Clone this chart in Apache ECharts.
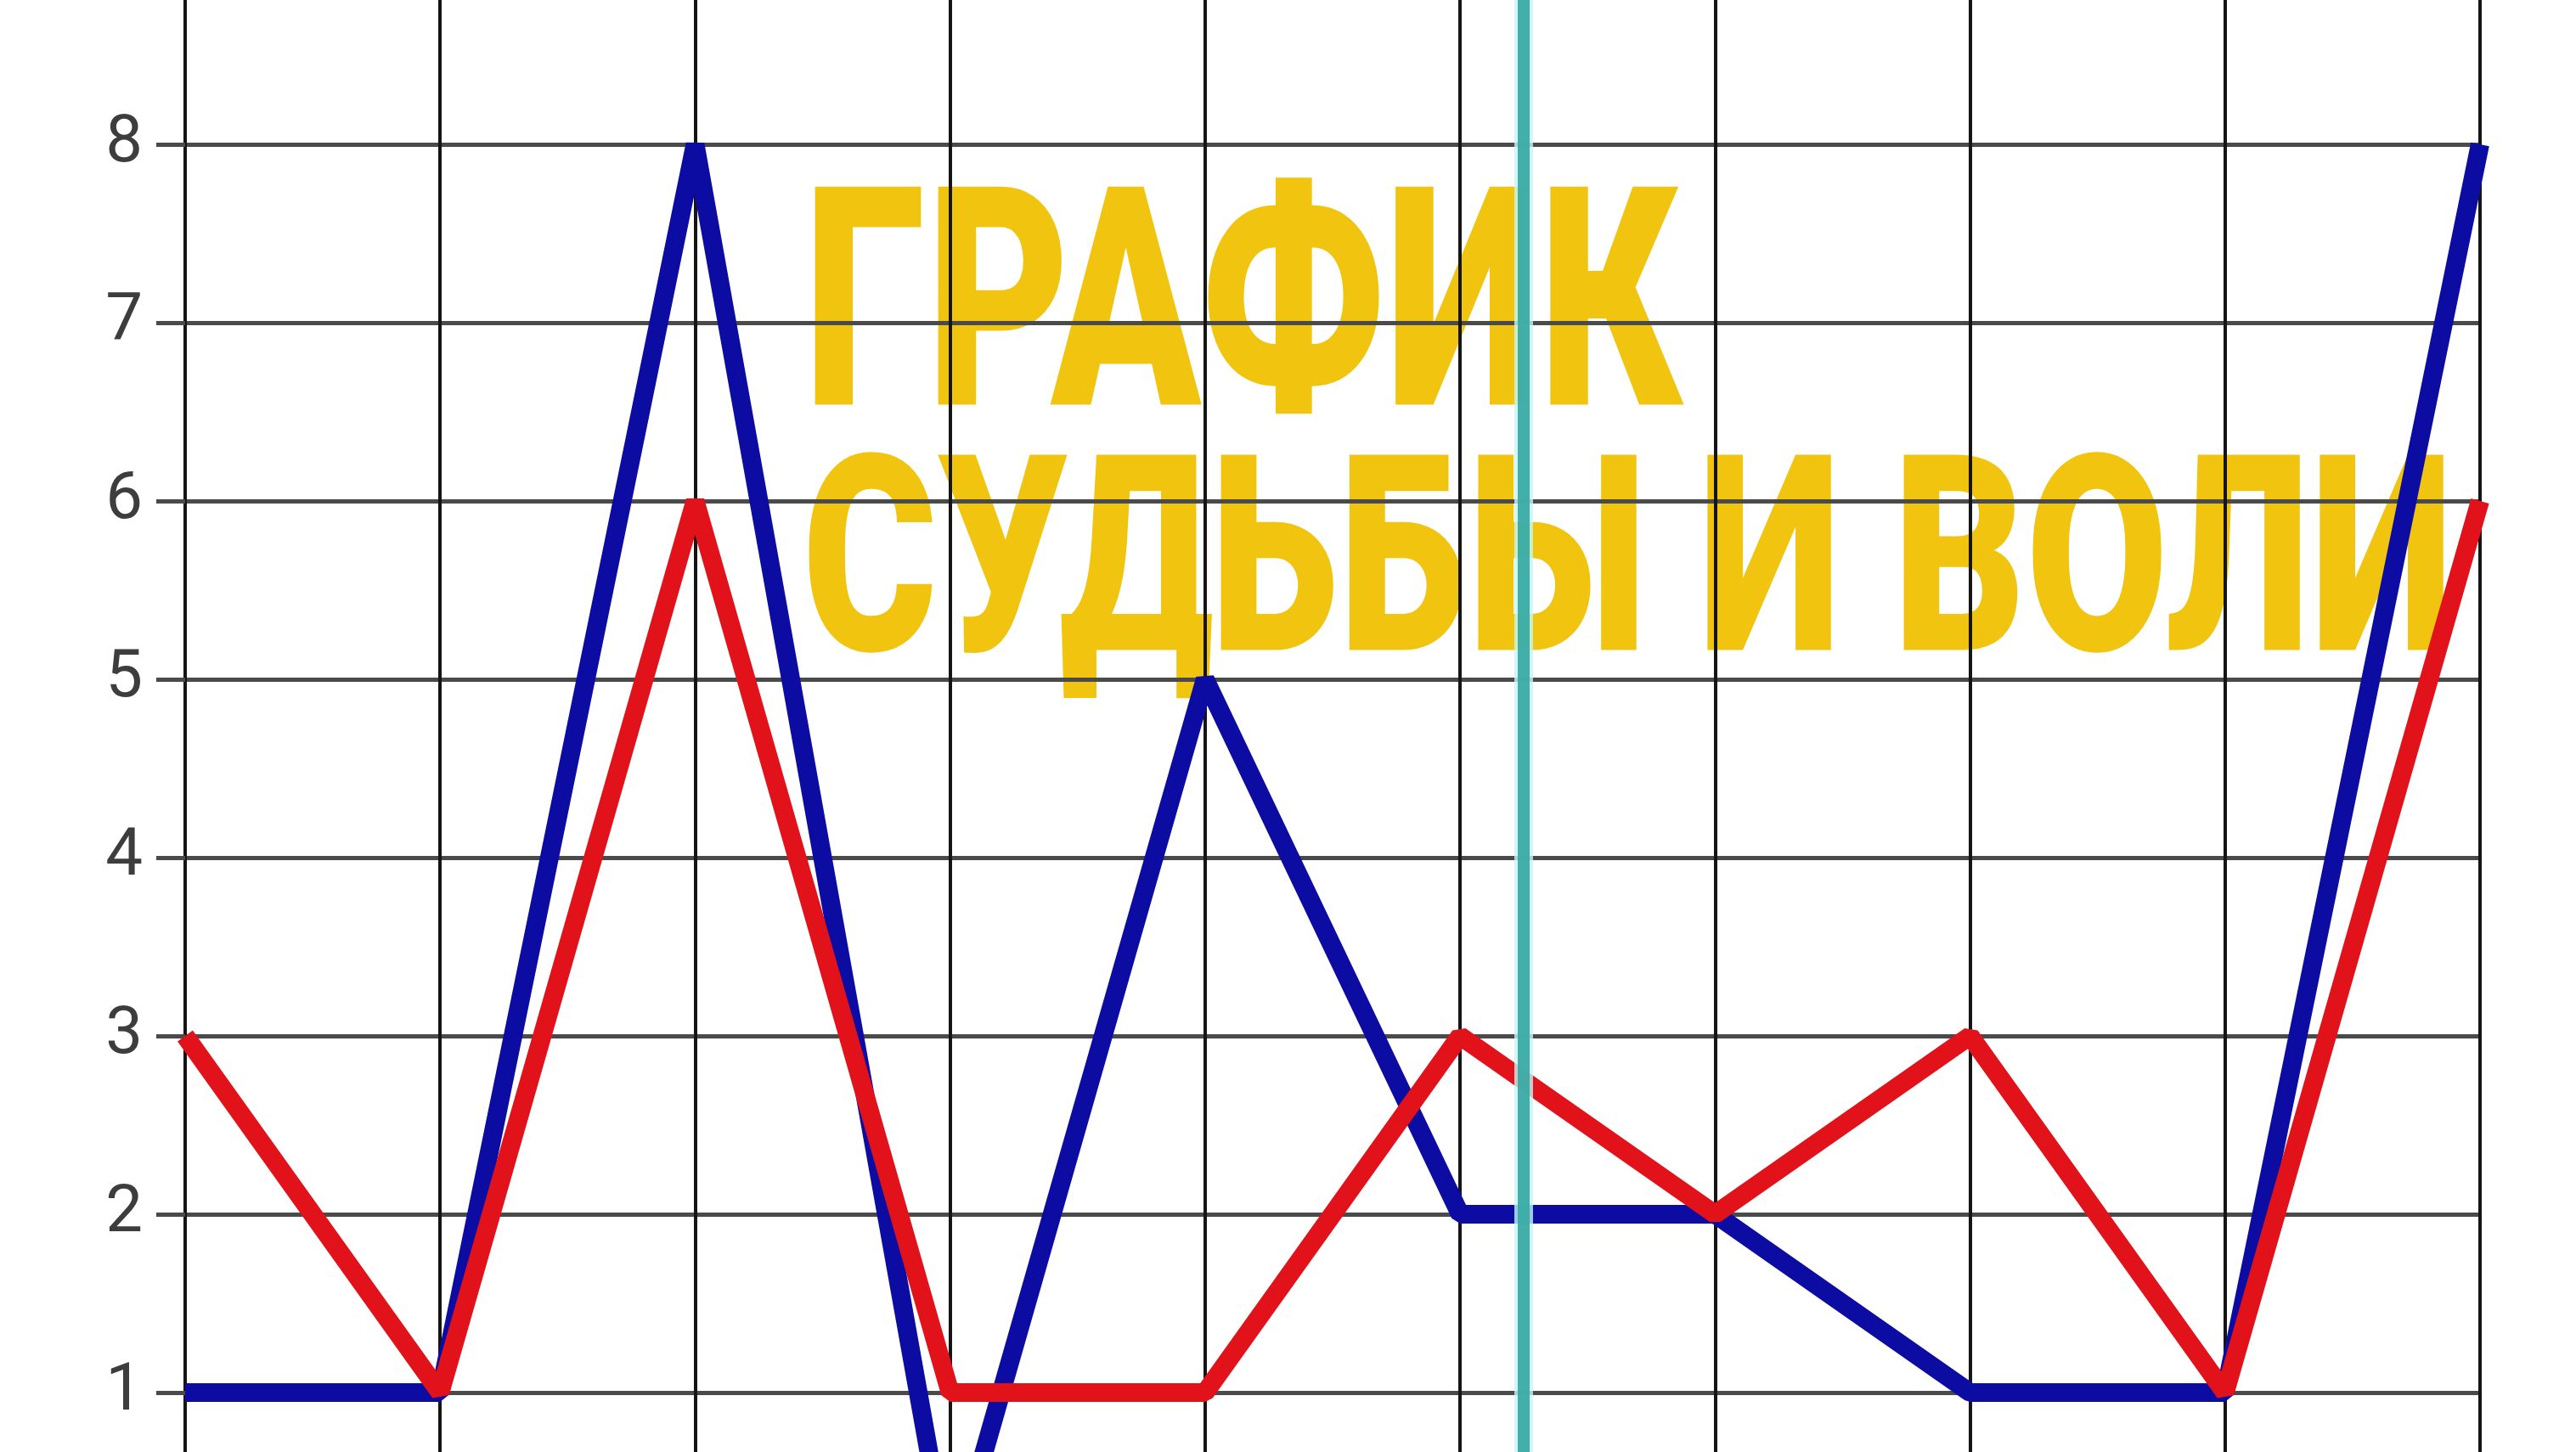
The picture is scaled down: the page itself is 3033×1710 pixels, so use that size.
<!DOCTYPE html>
<html><head><meta charset="utf-8">
<script src="https://cdn.jsdelivr.net/npm/echarts@6/dist/echarts.min.js"></script>
<style>html,body{margin:0;padding:0;background:#fff}#c{width:3033px;height:1710px}</style>
</head><body><div id="c"></div>
<script>
// ---- data ----
const xValues = [0, 1, 2, 3, 4, 5, 6, 7, 8, 9];
const fateValues = [1, 1, 8, 0, 5, 2, 2, 1, 1, 8];   // blue line
const willValues = [3, 1, 6, 1, 1, 3, 2, 3, 1, 6];   // red line
const yTickLabels = ['1', '2', '3', '4', '5', '6', '7', '8'];
const markerX = 5.25;                                 // cyan vertical line
const titleLines = ['ГРАФИК', 'СУДЬБЫ И ВОЛИ'];

const fam = 'Roboto, "Open Sans", "DejaVu Sans", sans-serif';
const titleColor = '#f1c40f';

function fitText(text, box) {
  const c = document.createElement('canvas').getContext('2d');
  c.textBaseline = 'middle';
  c.font = '900 100px ' + fam;
  const h100 = c.measureText('Н');
  const capH100 = h100.actualBoundingBoxAscent + h100.actualBoundingBoxDescent;
  const size = 100 * (box.bottom - box.top) / capH100;
  const font = '900 ' + size.toFixed(2) + 'px ' + fam;
  c.font = font;
  const m = c.measureText(text);
  const inkL = -m.actualBoundingBoxLeft, inkR = m.actualBoundingBoxRight;
  const sx = (box.right - box.left) / (inkR - inkL);
  const hm = c.measureText('Н');
  return {
    type: 'text', z: -10, silent: true,
    x: box.left - inkL * sx, y: box.top + hm.actualBoundingBoxAscent,
    scaleX: sx, scaleY: 1,
    style: { text: text, x: 0, y: 0, font: font, fill: titleColor,
      align: 'left', verticalAlign: 'middle', textAlign: 'left', textVerticalAlign: 'middle' }
  };
}

const chart = echarts.init(document.getElementById('c'), null, { renderer: 'canvas' });
chart.setOption({
  animation: false,
  backgroundColor: '#ffffff',
  grid: { left: 218, right: 113, top: -40, bottom: -140, containLabel: false, outerBoundsMode: 'none' },
  xAxis: {
    type: 'value', min: 0, max: 9, interval: 1,
    axisLine: { show: false }, axisTick: { show: false }, axisLabel: { show: false },
    splitLine: { show: true, showMinLine: true, showMaxLine: true,
      lineStyle: { color: '#151515', width: 4 } }
  },
  yAxis: {
    type: 'value', min: 0, max: 9, interval: 1,
    axisLine: { show: false },
    axisTick: { show: true, length: 34, lineStyle: { color: '#4a4a4a', width: 5 } },
    axisLabel: {
      show: true, margin: 50, fontSize: 78, color: '#3d3d3d', fontFamily: fam,
      formatter: function (v) { return (v >= 1 && v <= 8) ? yTickLabels[v - 1] : ''; }
    },
    splitLine: { show: true, lineStyle: { color: '#4a4a4a', width: 5 } }
  },
  graphic: [
    fitText(titleLines[0], { left: 958, right: 1986, top: 217, bottom: 477 }),
    fitText(titleLines[1], { left: 952, right: 2880, top: 533, bottom: 766 })
  ],
  series: [
    {
      name: 'fate', type: 'line', z: 2, showSymbol: false, symbol: 'none',
      data: xValues.map((x, i) => [x, fateValues[i]]),
      lineStyle: { color: '#0c0ca3', width: 22, join: 'bevel' }
    },
    {
      name: 'will', type: 'line', z: 3, showSymbol: false, symbol: 'none',
      data: xValues.map((x, i) => [x, willValues[i]]),
      lineStyle: { color: '#e2121b', width: 22, join: 'bevel' }
    },
    {
      name: 'markerHalo', type: 'line', z: 4, data: [],
      markLine: { silent: true, symbol: 'none', label: { show: false },
        lineStyle: { color: '#c4f6f6', width: 22, type: 'solid', opacity: 0.8 },
        data: [{ xAxis: markerX }] }
    },
    {
      name: 'marker', type: 'line', z: 5, data: [],
      markLine: { silent: true, symbol: 'none', label: { show: false },
        lineStyle: { color: '#3aaca4', width: 14, type: 'solid', opacity: 0.95 },
        data: [{ xAxis: markerX }] }
    }
  ]
});
</script>
</body></html>
